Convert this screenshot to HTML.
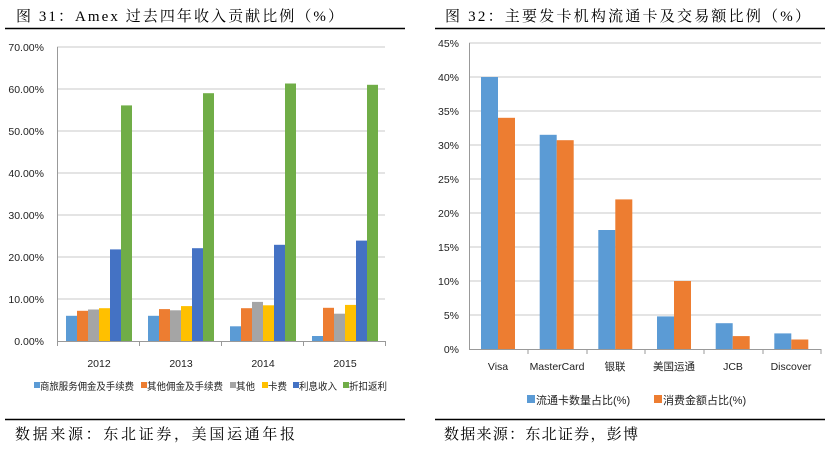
<!DOCTYPE html>
<html><head><meta charset="utf-8"><style>
body{margin:0;background:#fff;width:830px;height:448px;overflow:hidden}
text{font-family:"Liberation Sans","Noto Sans CJK SC",sans-serif}
.t{font-family:"Liberation Serif","Noto Serif CJK SC",serif;font-size:15px;fill:#000}
.ax{font-size:10.5px;fill:#222}
.lg{font-size:10px;fill:#222}
</style></head><body>
<svg width="830" height="448" xmlns="http://www.w3.org/2000/svg">
<rect width="830" height="448" fill="#fff"/>
<!-- Left chart -->
<text class="t" x="16" y="21" textLength="327" lengthAdjust="spacing">图  31：Amex 过去四年收入贡献比例（%）</text>
<line x1="5" y1="28.5" x2="405" y2="28.5" stroke="#000" stroke-width="1.5"/>
<g stroke="#c8c8c8" stroke-width="1">
<line x1="57" y1="47" x2="385" y2="47"/><line x1="57" y1="89" x2="385" y2="89"/><line x1="57" y1="131" x2="385" y2="131"/><line x1="57" y1="173" x2="385" y2="173"/><line x1="57" y1="215" x2="385" y2="215"/><line x1="57" y1="257" x2="385" y2="257"/><line x1="57" y1="299" x2="385" y2="299"/>
</g>
<line x1="57.5" y1="47" x2="57.5" y2="341" stroke="#999"/>
<line x1="57" y1="341.5" x2="385" y2="341.5" stroke="#999"/>
<g stroke="#999"><line x1="57.5" y1="341" x2="57.5" y2="346"/><line x1="139.5" y1="341" x2="139.5" y2="346"/><line x1="221.5" y1="341" x2="221.5" y2="346"/><line x1="303.5" y1="341" x2="303.5" y2="346"/><line x1="385.5" y1="341" x2="385.5" y2="346"/></g>
<g class="ax" text-anchor="end">
<text x="44" y="51">70.00%</text><text x="44" y="93">60.00%</text><text x="44" y="135">50.00%</text><text x="44" y="177">40.00%</text><text x="44" y="219">30.00%</text><text x="44" y="261">20.00%</text><text x="44" y="303">10.00%</text><text x="44" y="345">0.00%</text>
</g>
<g class="ax" text-anchor="middle"><text x="99" y="367">2012</text><text x="181" y="367">2013</text><text x="263" y="367">2014</text><text x="345" y="367">2015</text></g>
<g>
<rect x="66" y="315.8" width="11" height="25.2" fill="#5B9BD5"/><rect x="77" y="310.8" width="11" height="30.2" fill="#ED7D31"/><rect x="88" y="309.5" width="11" height="31.5" fill="#A5A5A5"/><rect x="99" y="308.2" width="11" height="32.8" fill="#FFC000"/><rect x="110" y="249.4" width="11" height="91.6" fill="#4472C4"/><rect x="121" y="105.4" width="11" height="235.6" fill="#70AD47"/>
<rect x="148" y="315.8" width="11" height="25.2" fill="#5B9BD5"/><rect x="159" y="309.1" width="11" height="31.9" fill="#ED7D31"/><rect x="170" y="310.3" width="11" height="30.7" fill="#A5A5A5"/><rect x="181" y="306.1" width="11" height="34.9" fill="#FFC000"/><rect x="192" y="248.2" width="11" height="92.8" fill="#4472C4"/><rect x="203" y="93.2" width="11" height="247.8" fill="#70AD47"/>
<rect x="230" y="326.3" width="11" height="14.7" fill="#5B9BD5"/><rect x="241" y="308.2" width="11" height="32.8" fill="#ED7D31"/><rect x="252" y="301.9" width="11" height="39.1" fill="#A5A5A5"/><rect x="263" y="305.3" width="11" height="35.7" fill="#FFC000"/><rect x="274" y="244.8" width="11" height="96.2" fill="#4472C4"/><rect x="285" y="83.5" width="11" height="257.5" fill="#70AD47"/>
<rect x="312" y="336" width="11" height="5" fill="#5B9BD5"/><rect x="323" y="307.8" width="11" height="33.2" fill="#ED7D31"/><rect x="334" y="313.7" width="11" height="27.3" fill="#A5A5A5"/><rect x="345" y="304.9" width="11" height="36.1" fill="#FFC000"/><rect x="356" y="240.6" width="11" height="100.4" fill="#4472C4"/><rect x="367" y="84.8" width="11" height="256.2" fill="#70AD47"/>
</g>
<g class="lg">
<rect x="34" y="382" width="6" height="6" fill="#5B9BD5"/><text x="40" y="390" textLength="94" lengthAdjust="spacingAndGlyphs">商旅服务佣金及手续费</text>
<rect x="141" y="382" width="6" height="6" fill="#ED7D31"/><text x="147" y="390" textLength="76" lengthAdjust="spacingAndGlyphs">其他佣金及手续费</text>
<rect x="230" y="382" width="6" height="6" fill="#A5A5A5"/><text x="236" y="390" textLength="19" lengthAdjust="spacingAndGlyphs">其他</text>
<rect x="262" y="382" width="6" height="6" fill="#FFC000"/><text x="268" y="390" textLength="19" lengthAdjust="spacingAndGlyphs">卡费</text>
<rect x="293" y="382" width="6" height="6" fill="#4472C4"/><text x="299" y="390" textLength="38" lengthAdjust="spacingAndGlyphs">利息收入</text>
<rect x="343" y="382" width="6" height="6" fill="#70AD47"/><text x="349" y="390" textLength="38" lengthAdjust="spacingAndGlyphs">折扣返利</text>
</g>
<line x1="5" y1="419.5" x2="405" y2="419.5" stroke="#000" stroke-width="1.5"/>
<text class="t" x="15" y="439" textLength="280" lengthAdjust="spacing">数据来源：东北证券，美国运通年报</text>

<!-- Right chart -->
<text class="t" x="445" y="21" textLength="365" lengthAdjust="spacing">图  32：主要发卡机构流通卡及交易额比例（%）</text>
<line x1="435" y1="28.5" x2="825" y2="28.5" stroke="#000" stroke-width="1.5"/>
<g stroke="#c8c8c8">
<line x1="469" y1="43" x2="821" y2="43"/><line x1="469" y1="77" x2="821" y2="77"/><line x1="469" y1="111" x2="821" y2="111"/><line x1="469" y1="145" x2="821" y2="145"/><line x1="469" y1="179" x2="821" y2="179"/><line x1="469" y1="213" x2="821" y2="213"/><line x1="469" y1="247" x2="821" y2="247"/><line x1="469" y1="281" x2="821" y2="281"/><line x1="469" y1="315" x2="821" y2="315"/>
</g>
<line x1="469.5" y1="43" x2="469.5" y2="349" stroke="#999"/>
<line x1="469" y1="349.5" x2="821" y2="349.5" stroke="#999"/>
<g stroke="#999"><line x1="528" y1="349" x2="528" y2="354"/><line x1="587" y1="349" x2="587" y2="354"/><line x1="645" y1="349" x2="645" y2="354"/><line x1="704" y1="349" x2="704" y2="354"/><line x1="763" y1="349" x2="763" y2="354"/><line x1="821" y1="349" x2="821" y2="354"/></g>
<g class="ax" text-anchor="end">
<text x="459" y="47">45%</text><text x="459" y="81">40%</text><text x="459" y="115">35%</text><text x="459" y="149">30%</text><text x="459" y="183">25%</text><text x="459" y="217">20%</text><text x="459" y="251">15%</text><text x="459" y="285">10%</text><text x="459" y="319">5%</text><text x="459" y="353">0%</text>
</g>
<g class="ax" text-anchor="middle"><text x="498" y="370">Visa</text><text x="557" y="370">MasterCard</text><text x="615" y="370">银联</text><text x="674" y="370">美国运通</text><text x="733" y="370">JCB</text><text x="791" y="370">Discover</text></g>
<g>
<rect x="481" y="77" width="17" height="272" fill="#5B9BD5"/><rect x="498" y="117.8" width="17" height="231.2" fill="#ED7D31"/>
<rect x="539.7" y="134.8" width="17" height="214.2" fill="#5B9BD5"/><rect x="556.7" y="140.2" width="17" height="208.8" fill="#ED7D31"/>
<rect x="598.3" y="230" width="17" height="119" fill="#5B9BD5"/><rect x="615.3" y="199.4" width="17" height="149.6" fill="#ED7D31"/>
<rect x="657" y="316.4" width="17" height="32.6" fill="#5B9BD5"/><rect x="674" y="281" width="17" height="68" fill="#ED7D31"/>
<rect x="715.7" y="323.2" width="17" height="25.8" fill="#5B9BD5"/><rect x="732.7" y="336.1" width="17" height="12.9" fill="#ED7D31"/>
<rect x="774.3" y="333.4" width="17" height="15.6" fill="#5B9BD5"/><rect x="791.3" y="339.5" width="17" height="9.5" fill="#ED7D31"/>
</g>
<g class="lg" style="font-size:11px">
<rect x="527" y="395" width="8" height="8" fill="#5B9BD5"/><text x="536" y="404">流通卡数量占比(%)</text>
<rect x="654" y="395" width="8" height="8" fill="#ED7D31"/><text x="663" y="404">消费金额占比(%)</text>
</g>
<line x1="435" y1="419.5" x2="825" y2="419.5" stroke="#000" stroke-width="1.5"/>
<text class="t" x="444" y="439" textLength="194" lengthAdjust="spacing">数据来源：东北证券，彭博</text>
</svg>
</body></html>
